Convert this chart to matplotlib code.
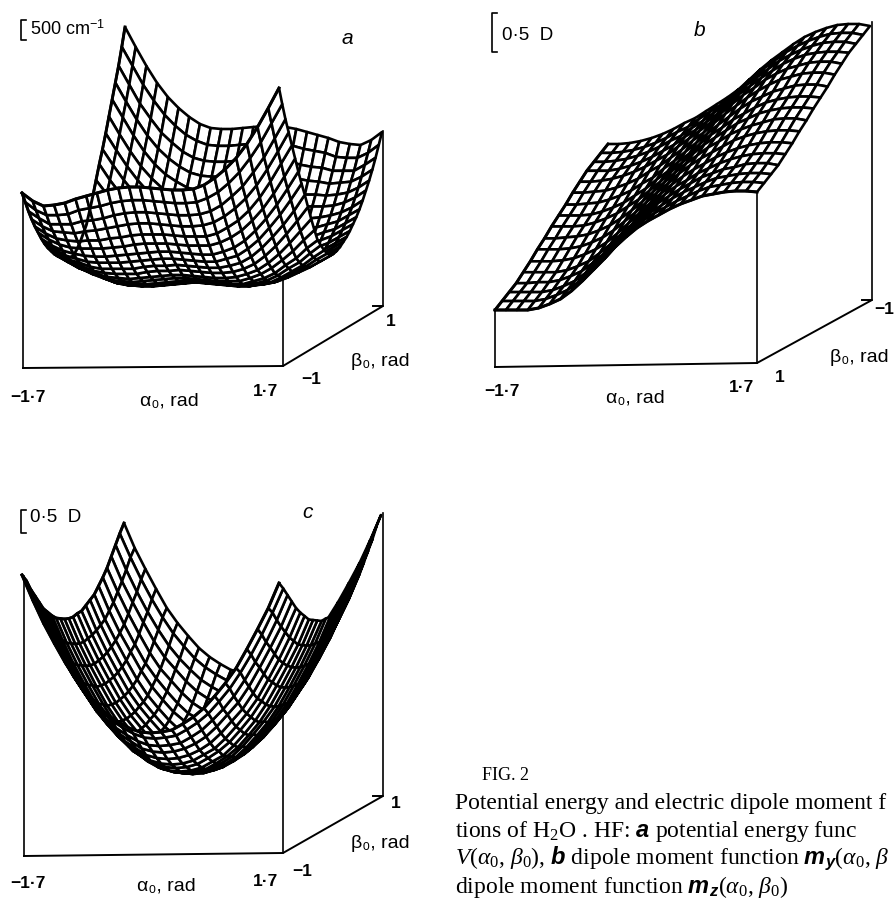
import numpy as np
import matplotlib
matplotlib.use("Agg")
import matplotlib.pyplot as plt
from matplotlib.collections import PolyCollection

plt.rcParams['font.family'] = ['Liberation Sans', 'DejaVu Sans']
plt.rcParams['mathtext.fontset'] = 'custom'
plt.rcParams['mathtext.rm'] = 'Liberation Serif'
plt.rcParams['mathtext.it'] = 'Liberation Serif:italic'
plt.rcParams['mathtext.bf'] = 'Liberation Sans:italic:bold'

alpha0 = np.linspace(-1.7, 1.7, 25)

# surface heights above the box floor, rows run from the front edge to the back edge
height_a = np.array([
    [175,167,162,163,165,169,172,175,178,180,181,181,180,179,178,178,179,183,190,199,210,224,241,260,280],
    [164,156,151,151,152,156,158,160,163,165,166,166,165,164,163,163,164,168,174,183,194,208,224,243,262],
    [153,146,140,140,140,143,144,146,149,151,152,152,151,150,149,149,150,153,159,168,178,192,207,226,245],
    [143,136,131,130,129,131,132,134,136,138,139,139,138,137,136,136,137,140,146,154,164,177,193,211,230],
    [134,127,122,120,119,120,120,122,123,125,126,126,126,125,124,124,124,127,133,140,150,163,179,197,215],
    [126,119,114,111,110,110,110,111,112,114,115,115,115,114,113,113,113,116,121,128,138,150,165,182,200],
    [118,111,106,103,101,100,100,101,102,103,104,105,105,104,103,102,102,105,109,116,126,138,152,168,185],
    [111,105,99,96,93,92,92,92,93,94,95,96,96,95,94,93,93,96,99,106,115,127,140,155,171],
    [105,99,93,90,86,84,84,84,84,86,87,87,88,87,86,85,85,87,90,96,105,116,128,142,158],
    [100,94,88,84,80,78,77,77,77,79,80,80,81,80,79,78,78,79,82,87,95,105,117,130,144],
    [95,89,83,79,75,72,71,70,71,72,73,74,74,73,72,71,71,72,75,79,86,95,106,118,130],
    [91,85,79,75,71,67,66,65,66,67,68,69,69,68,67,66,66,66,69,73,79,87,96,107,117],
    [88,82,76,71,67,63,61,61,61,62,63,64,65,64,63,62,61,61,64,67,72,80,87,97,105],
    [85,79,73,69,64,60,58,58,58,59,60,61,62,61,60,59,58,58,60,63,68,75,81,90,98],
    [83,77,71,67,62,58,56,55,55,56,57,58,59,58,57,56,55,55,57,59,64,70,76,84,91],
    [82,76,70,66,61,57,55,54,54,55,56,57,58,57,56,55,54,54,55,57,62,67,73,80,86],
    [82,76,70,65,60,56,54,53,53,54,55,56,57,56,55,54,53,53,54,56,60,65,70,76,82],
    [86,80,73,67,62,57,55,54,54,55,56,57,58,57,56,55,54,54,55,57,61,66,70,76,82],
    [91,84,76,70,64,59,57,55,55,56,57,58,59,58,57,56,55,55,56,58,62,67,71,77,83],
    [98,90,81,75,68,63,60,58,58,59,60,61,62,61,60,59,58,58,58,60,64,69,73,79,85],
    [105,97,87,80,72,67,64,61,61,62,63,64,65,64,63,62,61,61,61,63,67,71,76,82,88],
    [117,107,96,87,79,73,69,66,66,66,67,68,69,69,68,67,66,65,66,67,71,75,79,85,91],
    [130,118,106,95,86,79,75,72,71,71,72,73,74,74,73,72,71,70,71,72,75,79,83,89,95],
    [144,130,117,105,95,87,82,79,78,78,79,80,81,80,80,79,77,77,77,78,80,84,88,94,100],
    [158,142,128,116,105,96,90,87,85,85,86,87,88,87,87,86,84,84,84,84,86,90,93,99,105],
    [171,155,140,127,115,106,99,96,93,93,94,95,96,96,95,94,93,92,92,92,93,96,99,105,111],
    [185,168,152,138,126,116,109,105,102,102,103,104,105,105,104,103,102,101,100,100,101,103,106,111,118],
    [200,182,165,150,138,128,121,116,113,113,113,114,115,115,115,114,112,111,110,110,110,111,114,119,126],
    [215,197,179,163,150,140,133,127,124,124,124,125,126,126,126,125,123,122,120,120,119,120,122,127,134],
    [230,211,193,177,164,154,146,140,137,136,136,137,138,139,139,138,136,134,132,131,129,130,131,136,143],
    [245,226,207,192,178,168,159,153,150,149,149,150,151,152,152,151,149,146,144,143,140,140,140,146,153],
    [262,243,224,208,194,183,174,168,164,163,163,164,165,166,166,165,163,160,158,156,152,151,151,156,164],
    [280,260,241,224,210,199,190,183,179,178,178,179,180,181,181,180,178,175,172,169,165,163,162,167,175],
])

height_b = np.array([
    [57,57,57,57,59,63,68,76,86,97,108,120,130,139,146,152,158,163,167,171,173,175,176,176,175],
    [62,62,62,62,64,68,73,81,91,101,112,124,134,143,150,156,162,167,172,176,178,180,181,181,180],
    [67,67,67,67,69,73,78,86,96,106,117,128,138,147,154,161,167,172,177,181,183,185,186,186,185],
    [72,72,73,73,75,79,84,92,101,111,122,133,143,152,159,166,172,178,182,186,188,191,192,192,190],
    [79,79,79,79,81,85,90,98,107,117,127,138,148,157,165,171,178,183,188,192,195,197,198,198,197],
    [86,86,86,87,89,93,98,105,114,124,134,144,154,163,171,178,184,190,195,199,202,204,205,205,204],
    [94,94,94,95,97,101,106,113,122,131,141,151,160,170,178,185,191,197,203,207,210,212,213,213,212],
    [101,101,102,103,105,109,114,121,129,138,148,157,167,176,184,192,198,205,210,214,217,220,221,221,219],
    [109,109,109,110,113,117,122,129,136,145,154,164,173,182,191,198,205,212,217,222,225,227,228,228,227],
    [116,116,116,117,120,124,129,136,143,152,160,170,178,188,197,204,212,218,224,229,232,234,235,235,234],
    [123,123,124,125,128,132,137,144,150,159,167,176,185,194,203,211,219,226,231,236,239,242,243,243,241],
    [131,131,132,133,136,140,145,152,158,166,174,183,191,201,210,218,226,233,239,244,247,250,251,251,249],
    [138,138,139,141,144,148,153,159,165,173,181,189,197,207,216,225,232,240,246,251,254,257,258,258,256],
    [145,145,145,147,150,154,159,165,171,179,186,194,202,212,222,230,238,245,252,257,261,263,264,264,263],
    [150,150,151,153,156,160,165,171,176,184,191,199,207,217,227,235,243,251,257,262,266,269,270,270,268],
    [155,155,156,158,161,165,170,176,181,189,196,203,211,221,231,240,248,256,262,267,271,274,275,275,273],
    [160,160,161,163,166,170,175,181,186,193,200,207,215,225,235,244,252,260,267,272,276,279,280,280,278],
])

height_c = np.array([
    [281,256,233,213,194,177,164,152,141,134,128,124,123,124,126,132,139,148,160,173,188,207,227,248,273],
    [273,247,225,205,185,169,156,144,133,126,120,116,115,116,118,124,131,140,152,165,181,199,219,241,265],
    [262,237,215,195,175,159,146,133,123,116,110,106,105,106,108,114,121,131,142,155,171,189,209,231,256],
    [253,228,205,185,166,150,136,124,114,107,100,97,96,97,100,105,112,122,134,146,162,181,201,222,247],
    [244,218,196,176,157,141,127,115,105,98,91,88,87,88,91,96,103,113,125,137,153,172,192,214,238],
    [235,210,188,168,149,132,119,107,97,90,83,80,79,80,83,89,95,105,117,130,145,164,184,206,231],
    [229,204,182,161,142,126,113,101,90,83,77,74,73,74,77,83,90,99,111,124,140,159,178,200,225],
    [223,198,175,155,136,120,107,95,85,77,71,68,67,68,71,77,83,93,105,118,134,153,173,194,219],
    [218,193,171,151,132,116,103,91,80,73,67,64,63,64,67,73,80,89,101,114,130,149,169,191,216],
    [215,190,168,148,129,112,99,87,77,70,64,61,60,61,64,70,77,87,99,112,127,146,166,188,213],
    [212,187,165,144,125,109,96,84,74,67,61,58,57,58,61,67,74,84,96,109,125,144,164,186,210],
    [210,185,163,143,124,108,95,83,73,66,60,57,56,57,60,66,73,83,95,108,124,143,163,185,210],
    [209,184,162,142,123,107,94,82,72,65,59,56,55,56,59,65,72,82,94,107,123,142,162,184,209],
    [210,185,163,143,124,108,95,83,73,66,60,57,56,57,60,66,73,83,95,108,124,143,163,185,210],
    [210,186,164,144,125,109,96,84,74,67,61,58,57,58,61,67,74,84,96,109,125,144,165,187,212],
    [213,188,166,146,127,112,99,87,77,70,64,61,60,61,64,70,77,87,99,112,129,148,168,190,215],
    [216,191,169,149,130,114,101,89,80,73,67,64,63,64,67,73,80,91,103,116,132,151,171,193,218],
    [219,194,173,153,134,118,105,93,83,77,71,68,67,68,71,77,85,95,107,120,136,155,175,198,223],
    [225,200,178,159,140,124,111,99,90,83,77,74,73,74,77,83,90,101,113,126,142,161,182,204,229],
    [231,206,184,164,145,130,117,105,95,89,83,80,79,80,83,90,97,107,119,132,149,168,188,210,235],
    [238,214,192,172,153,137,125,113,103,96,91,88,87,88,91,98,105,115,127,141,157,176,196,218,244],
    [247,222,201,181,162,146,134,122,112,105,100,97,96,97,100,107,114,124,136,150,166,185,205,228,253],
    [256,231,209,189,171,155,142,131,121,114,108,106,105,106,110,116,123,133,146,159,175,195,215,237,262],
    [265,241,219,199,181,165,152,140,131,124,118,116,115,116,120,126,133,144,156,169,185,205,225,247,273],
    [273,248,227,207,188,173,160,148,139,132,126,124,123,124,128,134,141,152,164,177,194,213,233,256,281],
])


def draw_box(ax, x0, y0, w, dx, dy, lean, tops):
    # floor lines and the three upright edges, the surface gets painted over them
    xr, yr = x0 + w, y0 - lean
    ax.plot([x0, x0], [y0, y0 - tops[0]], color="black", lw=1.2, zorder=1)
    ax.plot([x0, xr, xr + dx, xr + dx, xr + dx - 10],
            [y0, yr, yr - dy, yr - dy, yr - dy], color="black", lw=1.4, zorder=1)
    ax.plot([xr, xr], [yr, yr - tops[1]], color="black", lw=1.2, zorder=1)
    ax.plot([xr + dx, xr + dx], [yr - dy, yr - dy - tops[2]], color="black", lw=1.2, zorder=1)


def draw_surface(ax, height, x0, y0, w, dx, dy, lw=1.9):
    depth = np.linspace(0, 1, height.shape[0])
    across = (alpha0 + 1.7) / 3.4 * w
    sx = x0 + across[None, :] + depth[:, None] * dx
    sy = y0 - depth[:, None] * dy - height
    # paint back to front so nearer cells hide what is behind them
    z = 2
    for r in range(height.shape[0] - 2, -1, -1):
        quads = []
        for c in range(height.shape[1] - 1):
            quads.append([(sx[r, c], sy[r, c]), (sx[r, c + 1], sy[r, c + 1]),
                          (sx[r + 1, c + 1], sy[r + 1, c + 1]), (sx[r + 1, c], sy[r + 1, c])])
        ax.add_collection(PolyCollection(quads, facecolors="white", edgecolors="black",
                                         linewidths=lw, zorder=z))
        z += 1
    ax.plot(sx[0], sy[0], color="black", lw=lw + 0.3, zorder=z)
    ax.plot(sx[:, 0], sy[:, 0], color="black", lw=lw + 0.2, zorder=z)


def scale_bar(ax, x, y1, y2):
    ax.plot([x + 5, x, x, x + 5], [y1, y1, y2, y2], color="black", lw=1.2)


fig = plt.figure(figsize=(8.94, 9.0), dpi=100)
ax = fig.add_axes([0, 0, 1, 1])
ax.set_xlim(0, 894)
ax.set_ylim(900, 0)
ax.axis("off")

draw_box(ax, 23, 368, 260, 100, 60, 2, [172, 86, 175])
draw_surface(ax, height_a, 22, 368, 257, 103, 61)
draw_box(ax, 495, 367, 262, 115, 63, 4, [57, 175, 278])
draw_surface(ax, height_b, 495, 367, 262, 113, 63)
draw_box(ax, 24, 856, 259, 100, 57, 3, [280, 145, 283])
draw_surface(ax, height_c, 22, 856, 257, 102, 60)

scale_bar(ax, 21, 20, 40)
scale_bar(ax, 492, 13, 52)
scale_bar(ax, 21, 510, 533)

tick = dict(fontsize=12.5, ha="center", va="center", weight="bold")
label = dict(fontsize=14, ha="center", va="center")
ax.text(30, 29, "500 cm$^{\\mathregular{-1}}$", fontsize=13, va="center")
ax.text(347, 38, "a", fontsize=15, style="italic", ha="center", va="center")
ax.text(502, 35, "0·5  D", fontsize=13.5, va="center")
ax.text(700, 30, "b", fontsize=15, style="italic", ha="center", va="center")
ax.text(30, 518, "0·5  D", fontsize=13.5, va="center")
ax.text(308, 513, "c", fontsize=15, style="italic", ha="center", va="center")

for x, y, s in [(28, 397, "−1·7"), (265, 391, "1·7"), (311, 380, "−1"), (391, 322, "1"),
                (502, 391, "−1·7"), (742, 388, "1·7"), (780, 378, "1"), (884, 310, "−1"),
                (28, 883, "−1·7"), (265, 881, "1·7"), (302, 872, "−1"), (396, 804, "1")]:
    ax.text(x, y, s, **tick)

for x, y, s in [(169, 401, "α₀, rad"), (380, 361, "β₀, rad"),
                (635, 398, "α₀, rad"), (859, 358, "β₀, rad"),
                (166, 886, "α₀, rad"), (380, 844, "β₀, rad")]:
    ax.text(x, y, s, **label)

caption = ["Potential energy and electric dipole moment f",
           "tions of H$_2$O . HF: $\\mathbf{a}$ potential energy func",
           "$\\mathit{V}$($\\alpha_0$, $\\beta_0$), $\\mathbf{b}$ dipole moment function $\\mathbf{m_y}$($\\alpha_0$, $\\beta$",
           "dipole moment function $\\mathbf{m_z}$($\\alpha_0$, $\\beta_0$)"]
ax.text(482, 776, "FIG. 2", fontsize=13, family="Liberation Serif", va="center")
for i, line in enumerate(caption):
    ax.text(455, 803 + i * 28, line, fontsize=17, family="Liberation Serif", va="center")

fig.savefig("out.png", dpi=100)
